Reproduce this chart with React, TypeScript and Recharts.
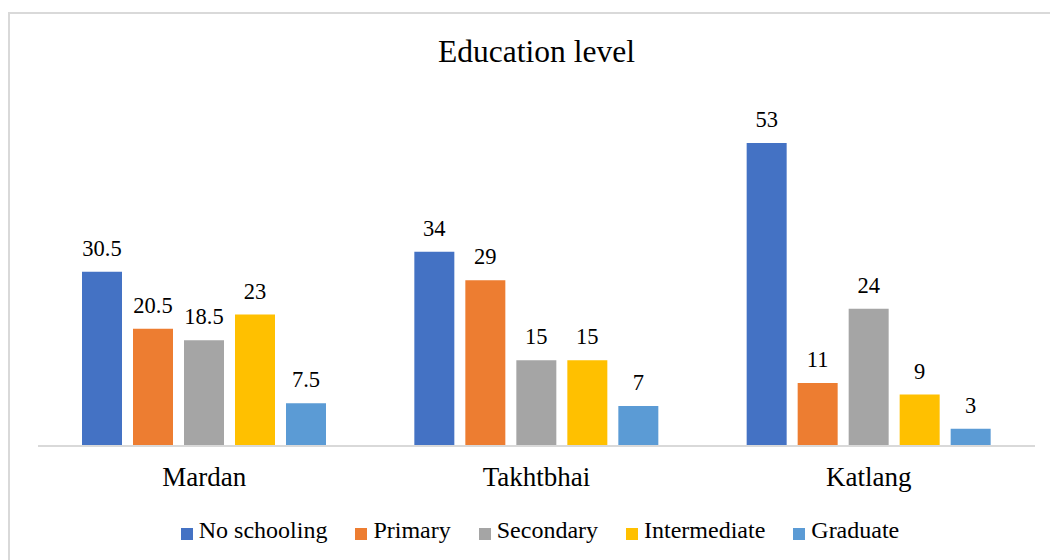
import { BarChart, Bar, XAxis, YAxis, LabelList } from 'recharts';

const districts = ['Mardan', 'Takhtbhai', 'Katlang'];
const noSchooling = [30.5, 34, 53];
const primary = [20.5, 29, 11];
const secondary = [18.5, 15, 24];
const intermediate = [23, 15, 9];
const graduate = [7.5, 7, 3];

const series = [
  { key: 'noSchooling', name: 'No schooling', color: '#4472C4', values: noSchooling },
  { key: 'primary', name: 'Primary', color: '#ED7D31', values: primary },
  { key: 'secondary', name: 'Secondary', color: '#A5A5A5', values: secondary },
  { key: 'intermediate', name: 'Intermediate', color: '#FFC000', values: intermediate },
  { key: 'graduate', name: 'Graduate', color: '#5B9BD5', values: graduate },
];

const data = districts.map((district, i) => {
  const row: Record<string, string | number> = { district };
  series.forEach((s) => {
    row[s.key] = s.values[i];
  });
  return row;
});

const FONT = '"Liberation Serif", "Times New Roman", serif';

const CategoryTick = (props: any) => {
  const { x, y, payload } = props;
  return (
    <text x={x} y={y + 40} textAnchor="middle" fontSize={27} fontFamily={FONT} fill="#000">
      {payload.value}
    </text>
  );
};

export default function App() {
  return (
    <div
      style={{
        position: 'absolute',
        left: 0,
        top: 0,
        width: 1050,
        height: 560,
        overflow: 'hidden',
        background: '#fff',
        fontFamily: FONT,
      }}
    >
      {/* chart frame, runs off the right and bottom of the picture */}
      <div
        style={{
          position: 'absolute',
          left: 8,
          top: 12,
          width: 1100,
          height: 600,
          border: '2px solid #d9d9d9',
        }}
      />
      <div
        style={{
          position: 'absolute',
          left: 23,
          top: 34,
          width: 1027,
          textAlign: 'center',
          fontSize: 31.5,
          lineHeight: '36px',
          color: '#000',
        }}
      >
        Education level
      </div>
      <div style={{ position: 'absolute', left: 0, top: 0 }}>
        <BarChart
          width={1050}
          height={560}
          data={data}
          margin={{ top: 103, right: 15, bottom: 84, left: 38 }}
          barSize={40}
          barGap={11}
        >
          <XAxis
            dataKey="district"
            height={30}
            axisLine={{ stroke: '#d9d9d9', strokeWidth: 2 }}
            tickLine={false}
            tickSize={0}
            tickMargin={0}
            tick={<CategoryTick />}
            interval={0}
          />
          <YAxis hide domain={[0, 60]} />
          {series.map((s) => (
            <Bar key={s.key} dataKey={s.key} name={s.name} fill={s.color} isAnimationActive={false}>
              <LabelList
                dataKey={s.key}
                position="top"
                offset={16}
                fontSize={22.5}
                fontFamily={FONT}
                fill="#000"
              />
            </Bar>
          ))}
        </BarChart>
      </div>
      <div
        style={{
          position: 'absolute',
          left: 31,
          top: 517,
          width: 1018,
          display: 'flex',
          justifyContent: 'center',
          fontSize: 24,
          lineHeight: '27px',
          color: '#000',
        }}
      >
        {series.map((s, i) => (
          <div
            key={s.key}
            style={{ display: 'flex', alignItems: 'center', marginLeft: i === 0 ? 0 : 28 }}
          >
            <span
              style={{
                display: 'inline-block',
                width: 12,
                height: 12,
                background: s.color,
                marginRight: 6,
                position: 'relative',
                top: 3,
              }}
            />
            <span>{s.name}</span>
          </div>
        ))}
      </div>
    </div>
  );
}
